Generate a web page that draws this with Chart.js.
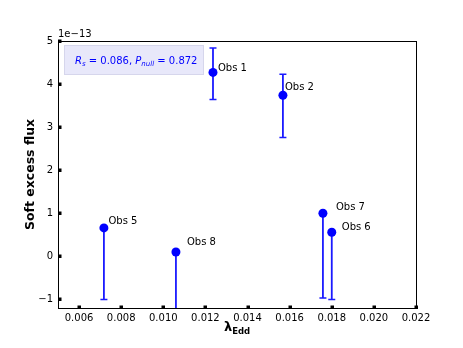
<!DOCTYPE html>
<html><head><meta charset="utf-8">
<script src="https://cdn.jsdelivr.net/npm/chart.js@4/dist/chart.umd.min.js"></script>
<style>html,body{margin:0;padding:0;background:#fff}#wrap{width:463px;height:348px}</style>
</head><body><div id="wrap"><canvas id="c" width="463" height="348"></canvas></div>
<script>
const obsLabels = ["Obs 1", "Obs 2", "Obs 5", "Obs 8", "Obs 7", "Obs 6"];
const lambdaEdd = [0.01236, 0.01568, 0.00718, 0.01060, 0.01758, 0.01800];
const softFlux = [4.27, 3.74, 0.66, 0.10, 1.00, 0.56];
const errLower = [3.64, 2.76, -1.00, -1.50, -0.97, -1.00];
const errUpper = [4.84, 4.23, 0.66, 0.10, 1.00, 0.56];
const xTicks = [0.006, 0.008, 0.010, 0.012, 0.014, 0.016, 0.018, 0.020, 0.022];
const yTicks = [-1, 0, 1, 2, 3, 4, 5];
const statRs = "0.086";
const statPnull = "0.872";

const labelOffsets = [[5,-4],[2,-8],[4.5,-6],[11,-10],[13,-6],[10,-5]];
const FONT = "'DejaVu Sans', sans-serif";
const BLUE = '#0000ff';

const decor = {
  id: 'decor',
  beforeDatasetsDraw(chart) {
    const ctx = chart.ctx, xs = chart.scales.x, ys = chart.scales.y, a = chart.chartArea;
    ctx.save();
    ctx.beginPath(); ctx.rect(a.left, a.top, a.right - a.left, a.bottom - a.top); ctx.clip();
    ctx.strokeStyle = '#1a1aff'; ctx.lineWidth = 1.8;
    for (let i = 0; i < lambdaEdd.length; i++) {
      const px = xs.getPixelForValue(lambdaEdd[i]);
      const lo = ys.getPixelForValue(errLower[i]);
      const hi = ys.getPixelForValue(errUpper[i]);
      ctx.beginPath(); ctx.moveTo(px, lo); ctx.lineTo(px, hi); ctx.stroke();
      ctx.lineWidth = 1.5;
      ctx.beginPath(); ctx.moveTo(px - 3.5, lo); ctx.lineTo(px + 3.5, lo);
      ctx.moveTo(px - 3.5, hi); ctx.lineTo(px + 3.5, hi); ctx.stroke();
      ctx.lineWidth = 1.8;
    }
    ctx.restore();
    // annotation box
    ctx.save();
    ctx.fillStyle = 'rgba(230,230,250,0.9)';
    ctx.strokeStyle = '#d6d6ec'; ctx.lineWidth = 1;
    ctx.fillRect(64.5, 45.5, 139, 29); ctx.strokeRect(64.5, 45.5, 139, 29);
    ctx.fillStyle = BLUE; ctx.textBaseline = 'alphabetic';
    let x = 75; const by = 64;
    const seg = (t, f, dy) => { ctx.font = f; ctx.fillText(t, x, by + (dy||0)); x += ctx.measureText(t).width; };
    seg('R', 'italic 10px ' + FONT);
    seg('s', 'italic 7px ' + FONT, 2);
    seg(' = ' + statRs + ', ', '10px ' + FONT);
    seg('P', 'italic 10px ' + FONT);
    seg('null', 'italic 7px ' + FONT, 2);
    seg(' = ' + statPnull, '10px ' + FONT);
    ctx.restore();
  },
  afterDraw(chart) {
    const ctx = chart.ctx, xs = chart.scales.x, ys = chart.scales.y, a = chart.chartArea;
    ctx.save();
    // frame
    ctx.strokeStyle = '#000'; ctx.lineWidth = 1;
    ctx.strokeRect(Math.round(a.left) + 0.5, Math.round(a.top) + 0.5, Math.round(a.right - a.left), Math.round(a.bottom - a.top));
    // ticks (inward squares)
    ctx.fillStyle = '#000';
    xTicks.forEach(v => { const p = Math.round(xs.getPixelForValue(v)); ctx.fillRect(p - 1.5, a.bottom - 2.5, 3.5, 3.5); });
    yTicks.forEach(v => { const p = Math.round(ys.getPixelForValue(v)); ctx.fillRect(a.left, p - 1.5, 3.5, 3.5); });
    // point labels
    ctx.fillStyle = '#000'; ctx.font = '10px ' + FONT; ctx.textBaseline = 'middle'; ctx.textAlign = 'left';
    for (let i = 0; i < obsLabels.length; i++) {
      const px = xs.getPixelForValue(lambdaEdd[i]), py = ys.getPixelForValue(softFlux[i]);
      ctx.fillText(obsLabels[i], px + labelOffsets[i][0], py + labelOffsets[i][1]);
    }
    // offset text
    ctx.textBaseline = 'alphabetic';
    ctx.fillText('1e\u221213', a.left, a.top - 4);
    // x title
    const t1 = '\u03bb'; ctx.font = 'bold 13px ' + FONT;
    const w1 = ctx.measureText(t1).width;
    ctx.font = 'bold 8.5px ' + FONT;
    const w2 = ctx.measureText('Edd').width;
    const cx = (a.left + a.right) / 2;
    let sx = cx - (w1 + w2) / 2;
    ctx.font = 'bold 13px ' + FONT; ctx.fillText(t1, sx, 331);
    ctx.font = 'bold 8.5px ' + FONT; ctx.fillText('Edd', sx + w1, 334);
    // y title
    ctx.translate(34, (a.top + a.bottom) / 2);
    ctx.rotate(-Math.PI / 2);
    ctx.font = 'bold 12.5px ' + FONT; ctx.textAlign = 'center';
    ctx.fillText('Soft excess flux', 0, 0);
    ctx.restore();
  }
};

new Chart(document.getElementById('c'), {
  type: 'scatter',
  data: { datasets: [{
    data: lambdaEdd.map((v, i) => ({ x: v, y: softFlux[i] })),
    backgroundColor: BLUE, borderColor: BLUE, pointRadius: 4.5, pointHoverRadius: 4.5, borderWidth: 0
  }]},
  options: {
    responsive: false, animation: false, devicePixelRatio: 1,
    layout: { padding: { left: 0, right: 47, top: 41, bottom: 0 } },
    plugins: { legend: { display: false }, tooltip: { enabled: false } },
    scales: {
      x: {
        type: 'linear', min: 0.005, max: 0.022,
        afterFit: s => { s.height = 40; },
        afterBuildTicks: s => { s.ticks = xTicks.map(v => ({ value: v })); },
        grid: { display: false, drawTicks: false },
        border: { display: false },
        ticks: { color: '#000', font: { family: FONT, size: 10 }, padding: 4, maxRotation: 0, autoSkip: false,
          callback: v => v.toFixed(3) }
      },
      y: {
        type: 'linear', min: -1.2, max: 5.0,
        afterFit: s => { s.width = 58; },
        afterBuildTicks: s => { s.ticks = yTicks.map(v => ({ value: v })); },
        grid: { display: false, drawTicks: false },
        border: { display: false },
        ticks: { color: '#000', font: { family: FONT, size: 10 }, padding: 5, autoSkip: false,
          callback: v => v < 0 ? '\u2212' + Math.abs(v) : String(v) }
      }
    }
  },
  plugins: [decor]
});
</script>
</body></html>
